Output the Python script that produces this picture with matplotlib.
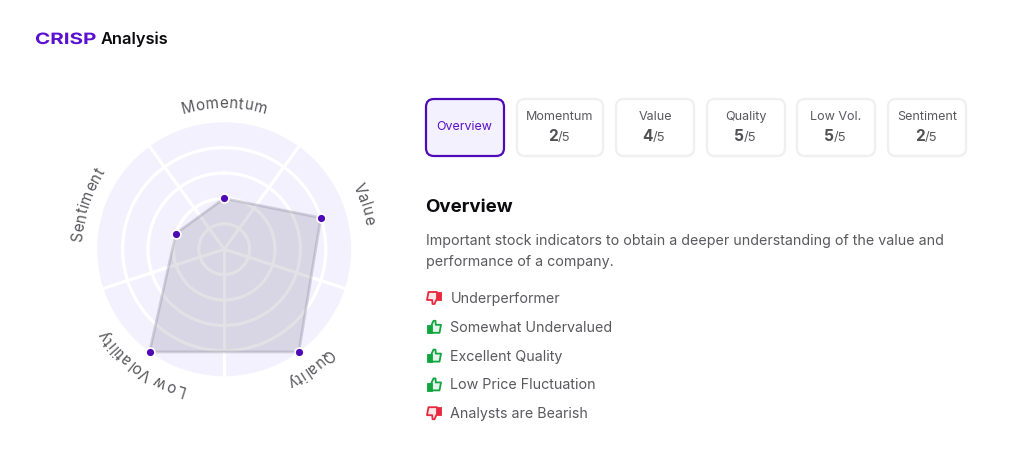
import numpy as np
import matplotlib
matplotlib.use("Agg")
import matplotlib.pyplot as plt
from matplotlib.patches import FancyBboxPatch, Polygon, Rectangle
from matplotlib.patheffects import AbstractPathEffect
from matplotlib.textpath import TextPath
from matplotlib.transforms import Affine2D
from matplotlib.font_manager import FontProperties

categories = ["Momentum", "Value", "Quality", "Low Volatility", "Sentiment"]
scores = [2, 4, 5, 5, 2]
max_score = 5
card_titles = ["Momentum", "Value", "Quality", "Low Vol.", "Sentiment"]
card_scores = [2, 4, 5, 5, 2]
card_spans = [(517, 603), (616, 694), (707, 785), (797, 875), (888, 966)]
points = ["Underperformer", "Somewhat Undervalued", "Excellent Quality",
          "Low Price Fluctuation", "Analysts are Bearish"]
point_good = [False, True, True, True, False]

W, H = 1024, 461
FONT = "Inter"
TXT = "#59595e"
PURPLE = "#4f0ab8"
px = 0.72  # points per pixel at dpi 100

plt.rcParams["font.family"] = [FONT, "DejaVu Sans"]
fig = plt.figure(figsize=(W / 100, H / 100), dpi=100, facecolor="white")

# --- radar ---
cx, cy, R = 224.2, 249.2, 127.0
ax = fig.add_axes([(cx - R) / W, 1 - (cy + R) / H, 2 * R / W, 2 * R / H], projection="polar")
ax.set_theta_zero_location("N")
ax.set_theta_direction(-1)
ax.set_ylim(0, max_score)
ax.set_facecolor("#f3f1fe")
ax.spines["polar"].set_visible(False)
ax.set_xticks(np.deg2rad(np.arange(36, 360, 72)))
ax.set_yticks(range(1, max_score))
ax.set_xticklabels([])
ax.set_yticklabels([])
ax.tick_params(length=0)
ax.grid(True, color="white", lw=2.3)
ax.set_axisbelow(True)

theta = np.deg2rad(np.arange(len(categories)) * 72)
tc = np.r_[theta, theta[0]]
vc = np.r_[scores, scores[0]]
ax.fill(tc, vc, color="#6f6a80", alpha=0.2, lw=0, zorder=3)
ax.plot(tc, vc, color="#8f8ba0", alpha=0.35, lw=2, zorder=3, clip_on=False)
ax.plot(theta, scores, "o", ms=6.4, mfc=PURPLE, mec="white", mew=1.2, zorder=4, clip_on=False)

# curved labels
LABEL_PX = 15.2
baseline_px = [141, 143, 143, 142.5, 142]
fp = FontProperties(family=FONT, size=LABEL_PX * px)
spacing = 0.35
w0 = TextPath((0, 0), "|", prop=fp).get_extents().x1
for name, t0, rpx in zip(categories, theta, baseline_px):
    adv = [(TextPath((0, 0), name[: i + 1] + "|", prop=fp).get_extents().x1 - w0) / px
           for i in range(len(name))]
    total = adv[-1] + spacing * (len(name) - 1)
    prev = 0
    for i, ch in enumerate(name):
        mid = (prev + adv[i]) / 2 + spacing * i - total / 2
        prev = adv[i]
        a = t0 + mid / rpx
        ax.text(a, rpx / R * max_score, ch, fontsize=LABEL_PX * px, color="#58585c", ha="center", va="baseline",
                rotation=-np.rad2deg(a), rotation_mode="anchor", clip_on=False)

# --- overlay in pixel coordinates ---
ov = fig.add_axes([0, 0, 1, 1], zorder=10)
ov.set_xlim(0, W)
ov.set_ylim(H, 0)
ov.axis("off")
ov.patch.set_alpha(0)


def card(x0, x1, ec, fc, lw):
    y0, y1 = 99, 156
    ov.add_patch(FancyBboxPatch((x0 + 8, y0 + 8), x1 - x0 - 16, y1 - y0 - 16,
                                boxstyle="round,pad=8,rounding_size=8", ec=ec, fc=fc, lw=lw))


card(426, 504, PURPLE, "#f3f1fe", 1.6)
ov.text(464.5, 127, "Overview", fontsize=12.4 * px, color="#5a12c8", ha="center", va="center")

for title, s, (x0, x1) in zip(card_titles, card_scores, card_spans):
    card(x0, x1, "#f0f0f0", "white", 1.7)
    xm = (x0 + x1) / 2
    ov.text(xm, 116.5, title, fontsize=12.6 * px, color=TXT, ha="center", va="center")
    ov.text(xm - 2, 141, str(s), fontsize=15.5 * px, fontweight="bold", color="#505055", ha="right", va="baseline")
    ov.text(xm - 2, 141, f"/{max_score}", fontsize=13 * px, color=TXT, ha="left", va="baseline")

ov.text(425.5, 211.5, "Overview", fontsize=18.7 * px, fontweight="bold", color="#0b0b0f", ha="left", va="baseline")
ov.text(426, 245, "Important stock indicators to obtain a deeper understanding of the value and",
        fontsize=14.3 * px, color=TXT, ha="left", va="baseline")
ov.text(426, 266, "performance of a company.", fontsize=14.3 * px, color=TXT, ha="left", va="baseline")


def thumb(x, y, good):
    col = "#12a53f" if good else "#e8283c"
    pale = "#e3f6e9" if good else "#fde6e8"
    s = 1 if good else -1
    pts = [(-3, -0.5), (-0.5, -6), (1.5, -6), (1.8, -2), (7, -2), (5.5, 6), (-3, 6)]
    ov.add_patch(Polygon([(x + s * p, y + s * q) for p, q in pts], closed=True, fc=pale, ec=col,
                         lw=1.3, joinstyle="round"))
    cuff = [(-7, -1.5), (-2.5, -1.5), (-2.5, 6.3), (-7, 6.3)]
    ov.add_patch(Polygon([(x + s * p, y + s * q) for p, q in cuff], closed=True, fc=col, ec=col,
                         lw=0.6, joinstyle="round"))


for i, (p, g) in enumerate(zip(points, point_good)):
    y = 298 + i * 28.8
    ov.text(450.5, y + 5, p, fontsize=14.3 * px, color=TXT, ha="left", va="baseline")
    thumb(434, y, g)


# --- header ---
class Stretch(AbstractPathEffect):
    """Widen glyphs horizontally around a fixed display x, as in the logo's wide lettering."""

    def __init__(self, sx, x0):
        super().__init__()
        self.sx, self.x0 = sx, x0

    def draw_path(self, renderer, gc, tpath, affine, rgbFace=None):
        stretched = affine + Affine2D().translate(-self.x0, 0).scale(self.sx, 1).translate(self.x0, 0)
        renderer.draw_path(gc, tpath, stretched, rgbFace)


logo = ov.text(35, 44, "CRISP", fontsize=15.6 * px, fontweight="bold", color="#5a10d0",
               ha="left", va="baseline")
logo.set_path_effects([Stretch(1.32, 35)])
ov.text(101, 44, "Analysis", fontsize=16.4 * px, fontweight="semibold", color="#0b0b0f", ha="left", va="baseline")

fig.savefig("out.png", dpi=100, facecolor="white")
